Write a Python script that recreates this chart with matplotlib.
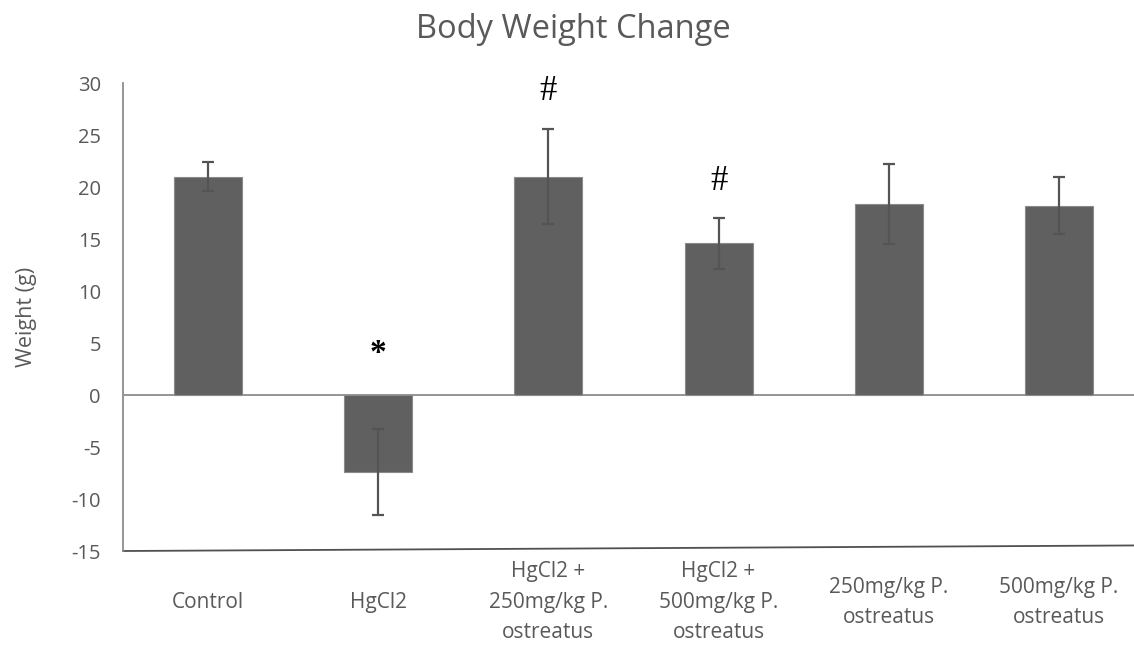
import numpy as np
import matplotlib.pyplot as plt

# body weight change per group, mean and SD (g)
groups = ["Control", "HgCl2", "HgCl2 +\n250mg/kg P.\nostreatus", "HgCl2 +\n500mg/kg P.\nostreatus",
          "250mg/kg P.\nostreatus", "500mg/kg P.\nostreatus"]
weight = [21.0, -7.4, 21.0, 14.6, 18.4, 18.2]
sd = [1.4, 4.15, 4.55, 2.45, 3.85, 2.75]

# significance marks and where they sit
marks = ["", "*", "#", "#", "", ""]
mark_y = [0, 4.6, 29.2, 20.5, 0, 0]

grey = "#595959"
plt.rcParams['font.family'] = ['Open Sans', 'DejaVu Sans']
plt.rcParams['axes.unicode_minus'] = False

fig = plt.figure(figsize=(11.34, 6.61), dpi=100)
ax = fig.add_axes([0.1085, 0.1664, 0.9003, 0.708])

x = np.arange(len(groups))
ax.bar(x, weight, width=0.4, color="#606060", edgecolor="#8a8a8a", linewidth=0.8, zorder=2)
ax.errorbar(x, weight, yerr=sd, fmt='none', ecolor="#545454", elinewidth=1.6,
            capsize=4.5, capthick=1.6, zorder=3)

for i in range(len(x)):
    if marks[i] == "#":
        ax.text(x[i], mark_y[i], marks[i], ha='center', va='center', fontsize=25,
                family='Liberation Serif', color='black')
    elif marks[i] == "*":
        ax.text(x[i], mark_y[i] - 0.6, marks[i], ha='center', va='center', fontsize=24,
                family='Liberation Serif', fontweight='bold', color='black')

ax.axhline(0, color="#8c8c8c", lw=1.3, zorder=1)

ax.set_xlim(-0.5, 5.5)
ax.set_ylim(-15, 30)
ax.set_yticks(range(-15, 31, 5))
ax.tick_params(axis='y', length=0, pad=16, labelsize=14.5, labelcolor=grey)
ax.set_xticks(x)
ax.set_xticklabels(groups, va='center', linespacing=1.6)
ax.tick_params(axis='x', length=0, pad=37, labelsize=15, labelcolor=grey)

for s in ['top', 'right', 'bottom']:
    ax.spines[s].set_visible(False)
ax.spines['left'].set_color("#8c8c8c")
ax.spines['left'].set_linewidth(1.3)

# bottom border line, slightly tilted
ax.plot([0, 1], [0, 0.012], transform=ax.transAxes, color="#505050", lw=1.3, clip_on=False)

ax.set_ylabel("Weight (g)", fontsize=15.5, color=grey)
ax.yaxis.set_label_coords(-0.084, 0.5)
fig.text(0.506, 0.955, "Body Weight Change", ha='center', va='center', fontsize=23.5, color=grey)

fig.savefig("out.png", dpi=100)
